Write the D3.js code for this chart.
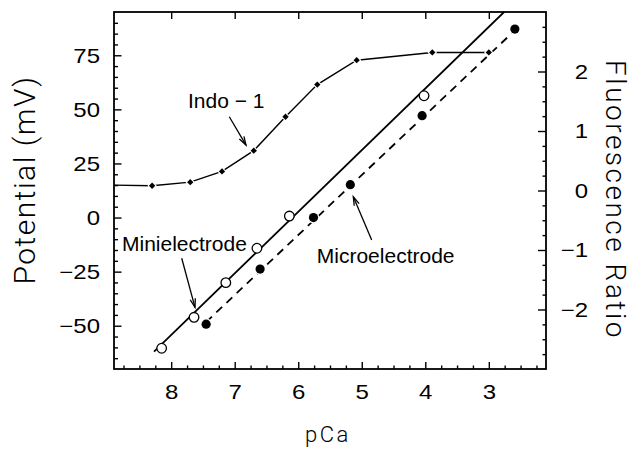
<!DOCTYPE html>
<html>
<head>
<meta charset="utf-8">
<script src="https://cdn.jsdelivr.net/npm/d3@7"></script>
<style>
  html, body { margin: 0; padding: 0; background: #fff; }
  svg { display: block; }
</style>
</head>
<body>
<svg id="chart" width="635" height="449"></svg>
<script>
// ---------------- data ----------------
const pcaTicks   = [8, 7, 6, 5, 4, 3];
const mvTicks    = [-50, -25, 0, 25, 50, 75];
const ratioTicks = [-2, -1, 0, 1, 2];

// Indo-1 fluorescence ratio (right axis)
const indoPCa   = [8.3, 7.7, 7.2, 6.7, 6.2, 5.7, 5.08, 3.89, 3.0];
const indoRatio = [0.08, 0.14, 0.32, 0.67, 1.24, 1.78, 2.19, 2.32, 2.32];
const indoCurveStartPCa = 8.9;      // curve continues flat to the left edge
const indoCurveStartRatio = 0.09;

// Minielectrode (open circles, left axis)
const miniPCa = [8.15, 7.64, 7.14, 6.65, 6.14, 4.02];
const miniMV  = [-60.4, -46.1, -30.1, -14.2, 0.7, 56.3];
const miniFitPCa = [8.27, 2.76];
const miniFitMV  = [-62, 95];

// Microelectrode (filled circles, left axis)
const microPCa = [7.45, 6.60, 5.76, 5.18, 4.05, 2.59];
const microMV  = [-49.3, -23.8, 0.0, 15.2, 47.1, 87.1];
const microFitPCa = [7.45, 2.59];
const microFitMV  = [-48.3, 86.5];

// annotations (data coordinates: pCa, mV)
const annotations = [
  { text: "Indo \u2212 1",    tx: 7.735, ty: 50.6,  ax1: 7.085, ay1: 46.6,  ax2: 6.822, ay2: 33.5 },
  { text: "Minielectrode",    tx: 8.774, ty: -15.3, ax1: 7.834, ay1: -18.8, ax2: 7.625, ay2: -41.5 },
  { text: "Microelectrode",   tx: 5.708, ty: -21.1, ax1: 4.844, ay1: -10.4, ax2: 5.133, ay2: 9.6 }
];

// ---------------- layout ----------------
const svg = d3.select("#chart");
const L = 114, R = 546, T = 12, B = 369;

const x  = d3.scaleLinear().domain([8.9, 2.1]).range([L, R]);
const yL = d3.scaleLinear().domain([-70, 95]).range([B, T]);
const yR = d3.scaleLinear().domain([-3, 3]).range([B, T]);

const tickFont = "'Liberation Sans', Arial, Helvetica, sans-serif";
const titleFont = "Roboto, Lato, 'Liberation Sans', Arial, sans-serif";

svg.append("defs").append("clipPath").attr("id", "plotclip")
  .append("rect").attr("x", L).attr("y", T).attr("width", R - L).attr("height", B - T);

// minor tick value generators
const range = (a, b, s) => d3.range(Math.round((b - a) / s) + 1).map(i => +(a + i * s).toFixed(4));
const xMinor = range(2.25, 8.75, 0.25).filter(v => !pcaTicks.includes(v));
const yLMinor = range(-65, 90, 5).filter(v => !mvTicks.includes(v));
const yRMinor = range(-2.75, 2.75, 0.25).filter(v => !ratioTicks.includes(v));

function styleAxis(g) {
  g.select(".domain").remove();
  g.selectAll("line").attr("stroke", "#000").attr("stroke-width", 1.4);
}

// bottom axis
const gB = svg.append("g").attr("transform", `translate(0,${B})`);
gB.call(d3.axisBottom(x).tickValues(xMinor).tickSize(-3.5).tickFormat(""));
styleAxis(gB);
const gB2 = svg.append("g").attr("transform", `translate(0,${B})`);
gB2.call(d3.axisBottom(x).tickValues(pcaTicks).tickSize(-7).tickFormat(d3.format("d")));
styleAxis(gB2);
gB2.selectAll("text").attr("y", 16).attr("dy", "0.71em")
  .attr("font-family", tickFont).attr("font-size", 20).attr("fill", "#000")
  .attr("transform", "scale(1.2,1)");

// top axis (major only)
const gT = svg.append("g").attr("transform", `translate(0,${T})`);
gT.call(d3.axisTop(x).tickValues(pcaTicks).tickSize(-7).tickFormat(""));
styleAxis(gT);

// left axis
const gL = svg.append("g").attr("transform", `translate(${L},0)`);
gL.call(d3.axisLeft(yL).tickValues(yLMinor).tickSize(-4).tickFormat(""));
styleAxis(gL);
const gL2 = svg.append("g").attr("transform", `translate(${L},0)`);
gL2.call(d3.axisLeft(yL).tickValues(mvTicks).tickSize(-7.5).tickFormat(d => d < 0 ? "\u2212" + Math.abs(d) : d));
styleAxis(gL2);
gL2.selectAll("text").attr("x", null).attr("dy", "0.34em")
  .attr("text-anchor", "end")
  .attr("font-family", tickFont).attr("font-size", 20).attr("fill", "#000")
  .attr("transform", "translate(-14,0) scale(1.2,1)");

// right axis
const gR = svg.append("g").attr("transform", `translate(${R},0)`);
gR.call(d3.axisRight(yR).tickValues(yRMinor).tickSize(-3.5).tickFormat(""));
styleAxis(gR);
const gR2 = svg.append("g").attr("transform", `translate(${R},0)`);
gR2.call(d3.axisRight(yR).tickValues(ratioTicks).tickSize(-8).tickFormat(d => d < 0 ? "\u2212" + Math.abs(d) : d));
styleAxis(gR2);
gR2.selectAll("text").attr("x", null).attr("dy", "0.34em")
  .attr("text-anchor", "end")
  .attr("font-family", tickFont).attr("font-size", 20).attr("fill", "#000")
  .attr("transform", "translate(42,0) scale(1.2,1)");

// frame
svg.append("rect").attr("x", L).attr("y", T).attr("width", R - L).attr("height", B - T)
  .attr("fill", "none").attr("stroke", "#000").attr("stroke-width", 1.8);

// ---------------- series ----------------
const plot = svg.append("g").attr("clip-path", "url(#plotclip)");

// Indo-1 line
const indoLine = d3.line().x(d => x(d[0])).y(d => yR(d[1]));
const indoPts = [[indoCurveStartPCa, indoCurveStartRatio]].concat(indoPCa.map((p, i) => [p, indoRatio[i]]));
plot.append("path").attr("d", indoLine(indoPts))
  .attr("fill", "none").attr("stroke", "#000").attr("stroke-width", 1.4);

// fit lines
const mvLine = d3.line().x(d => x(d[0])).y(d => yL(d[1]));
plot.append("path").attr("d", mvLine(miniFitPCa.map((p, i) => [p, miniFitMV[i]])))
  .attr("fill", "none").attr("stroke", "#000").attr("stroke-width", 1.8);
plot.append("path").attr("d", mvLine(microFitPCa.map((p, i) => [p, microFitMV[i]])))
  .attr("fill", "none").attr("stroke", "#000").attr("stroke-width", 1.8)
  .attr("stroke-dasharray", "8,6");

// Indo markers (small diamonds with white halo)
const diamond = d3.symbol().type(d3.symbolSquare).size(20);
svg.append("g").selectAll("path").data(indoPCa.map((p, i) => [p, indoRatio[i]])).join("path")
  .attr("d", diamond)
  .attr("transform", d => `translate(${x(d[0])},${yR(d[1])}) rotate(45)`)
  .attr("fill", "#000").attr("stroke", "#fff").attr("stroke-width", 2.2)
  .attr("paint-order", "stroke");

// microelectrode filled circles
svg.append("g").selectAll("circle").data(microPCa.map((p, i) => [p, microMV[i]])).join("circle")
  .attr("cx", d => x(d[0])).attr("cy", d => yL(d[1])).attr("r", 4.6)
  .attr("fill", "#000").attr("stroke", "#fff").attr("stroke-width", 2.5)
  .attr("paint-order", "stroke");

// minielectrode open circles
svg.append("g").selectAll("circle").data(miniPCa.map((p, i) => [p, miniMV[i]])).join("circle")
  .attr("cx", d => x(d[0])).attr("cy", d => yL(d[1])).attr("r", 4.8)
  .attr("fill", "#fff").attr("stroke", "#000").attr("stroke-width", 1.3);

// ---------------- annotations ----------------
const ann = svg.append("g");
annotations.forEach(a => {
  ann.append("text").attr("x", x(a.tx)).attr("y", yL(a.ty))
    .attr("font-family", "'Liberation Sans', Arial, Helvetica, sans-serif")
    .attr("font-size", 21).attr("fill", "#000").text(a.text);
  const x1 = x(a.ax1), y1 = yL(a.ay1), x2 = x(a.ax2), y2 = yL(a.ay2);
  ann.append("line").attr("x1", x1).attr("y1", y1).attr("x2", x2).attr("y2", y2)
    .attr("stroke", "#000").attr("stroke-width", 1.3);
  const ang = Math.atan2(y2 - y1, x2 - x1);
  const hl = 9, hw = 0.3;
  const p1 = [x2 - hl * Math.cos(ang - hw), y2 - hl * Math.sin(ang - hw)];
  const p2 = [x2 - hl * Math.cos(ang + hw), y2 - hl * Math.sin(ang + hw)];
  ann.append("path").attr("d", `M${p1[0]},${p1[1]}L${x2},${y2}L${p2[0]},${p2[1]}`)
    .attr("fill", "none").attr("stroke", "#000").attr("stroke-width", 1.3);
});

// ---------------- axis titles ----------------
svg.append("text").attr("transform", `translate(35,180) rotate(-90)`)
  .attr("text-anchor", "middle").attr("font-family", titleFont)
  .attr("font-size", 30).attr("font-weight", 300).attr("letter-spacing", 1.5).attr("fill", "#000")
  .text("Potential (mV)");

svg.append("text").attr("transform", `translate(606,200) rotate(90)`)
  .attr("text-anchor", "middle").attr("font-family", titleFont)
  .attr("font-size", 28).attr("font-weight", 300).attr("letter-spacing", 2.5).attr("fill", "#000")
  .text("Fluorescence Ratio");

svg.append("text").attr("x", 328).attr("y", 442)
  .attr("text-anchor", "middle").attr("font-family", titleFont)
  .attr("font-size", 22).attr("letter-spacing", 2.5).attr("font-weight", 300).attr("fill", "#000")
  .text("pCa");
</script>
</body>
</html>
